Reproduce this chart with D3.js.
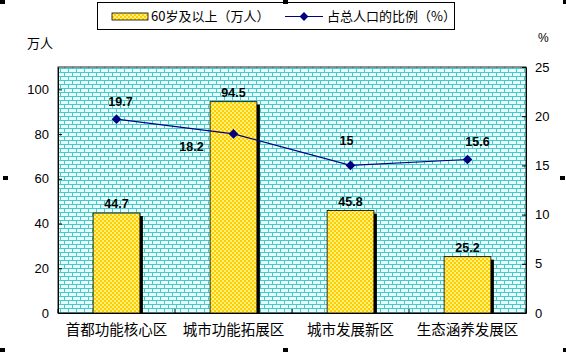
<!DOCTYPE html>
<html lang="zh">
<head>
<meta charset="UTF-8">
<title>60岁及以上人口</title>
<script src="https://cdn.jsdelivr.net/npm/d3@7"></script>
<style>
  body { margin: 0; background: #fff; }
  svg { display: block; }
  .num { font-family: "Liberation Sans", Arial, sans-serif; }
  .cjk { font-family: "Noto Sans CJK SC", sans-serif; }
</style>
</head>
<body>
<script>
const categories = ["首都功能核心区", "城市功能拓展区", "城市发展新区", "生态涵养发展区"];
const elderly = [44.7, 94.5, 45.8, 25.2];     // 60岁及以上（万人）
const share = [19.7, 18.2, 15, 15.6];          // 占总人口的比例（%）
const leftTicks = [0, 20, 40, 60, 80, 100];
const rightTicks = [0, 5, 10, 15, 20, 25];

const width = 566, height = 352;
const plot = {left: 58, right: 526, top: 67, bottom: 313};

const svg = d3.select("body").append("svg").attr("width", width).attr("height", height);

// fills: brick background, yellow checker for bars
const defs = svg.append("defs");
const brick = defs.append("pattern").attr("id", "brick").attr("patternUnits", "userSpaceOnUse")
    .attr("width", 8).attr("height", 8);
brick.append("rect").attr("width", 8).attr("height", 8).attr("fill", "#eaffff");
brick.append("path").attr("d", "M0,0.5H8M0,4.5H8M0.5,0V4M4.5,4.5V8")
    .attr("stroke", "#44cccc").attr("stroke-width", 1).attr("fill", "none");

const checker = defs.append("pattern").attr("id", "checker").attr("patternUnits", "userSpaceOnUse")
    .attr("width", 4).attr("height", 4);
checker.append("rect").attr("width", 4).attr("height", 4).attr("fill", "#fff27a");
checker.append("rect").attr("width", 2).attr("height", 2).attr("fill", "#ffcc00");
checker.append("rect").attr("x", 2).attr("y", 2).attr("width", 2).attr("height", 2).attr("fill", "#ffcc00");

const x = d3.scaleBand().domain(categories).range([plot.left, plot.right])
    .paddingInner(0.6).paddingOuter(0.3);
const yL = d3.scaleLinear().domain([0, 110]).range([plot.bottom, plot.top]);
const yR = d3.scaleLinear().domain([0, 25]).range([plot.bottom, plot.top]);
const cx = c => x(c) + x.bandwidth() / 2;

svg.append("rect")
    .attr("x", plot.left).attr("y", plot.top)
    .attr("width", plot.right - plot.left).attr("height", plot.bottom - plot.top)
    .attr("fill", "url(#brick)").attr("stroke", "#222").attr("stroke-width", 1);

// bars with a black drop shadow
const bars = svg.append("g");
bars.selectAll("rect.shadow").data(elderly).join("rect").attr("class", "shadow")
    .attr("x", (d, i) => x(categories[i]) + 3).attr("y", d => yL(d) + 3)
    .attr("width", x.bandwidth()).attr("height", d => plot.bottom - yL(d) - 3)
    .attr("fill", "#000");
bars.selectAll("rect.bar").data(elderly).join("rect").attr("class", "bar")
    .attr("x", (d, i) => x(categories[i])).attr("y", d => yL(d))
    .attr("width", x.bandwidth()).attr("height", d => plot.bottom - yL(d))
    .attr("fill", "url(#checker)").attr("stroke", "#000").attr("stroke-width", 0.8);

bars.selectAll("text").data(elderly).join("text").attr("class", "num")
    .attr("x", (d, i) => cx(categories[i])).attr("y", d => yL(d) - 5)
    .attr("text-anchor", "middle").attr("font-size", 12.5).attr("font-weight", "bold")
    .text(d => d);

// axes
const axL = svg.append("g").attr("transform", `translate(${plot.left},0)`)
    .call(d3.axisLeft(yL).tickValues(leftTicks).tickSizeInner(-4).tickSizeOuter(0).tickPadding(9));
const axR = svg.append("g").attr("transform", `translate(${plot.right},0)`)
    .call(d3.axisRight(yR).tickValues(rightTicks).tickSizeInner(-4).tickSizeOuter(0).tickPadding(9));
[axL, axR].forEach(g => {
  g.select(".domain").attr("stroke", "#000");
  g.selectAll(".tick line").attr("stroke", "#000");
  g.selectAll("text").attr("class", "num").attr("font-size", 13).attr("fill", "#000");
});

const axB = svg.append("g").attr("transform", `translate(0,${plot.bottom})`)
    .call(d3.axisBottom(x).tickSize(0).tickPadding(12));
axB.select(".domain").attr("stroke", "#000");
axB.selectAll("text").attr("class", "cjk").attr("font-size", 14.5).attr("fill", "#000");
axB.selectAll("line.sep").data(d3.range(categories.length + 1)).join("line").attr("class", "sep")
    .attr("x1", i => plot.left + i * x.step()).attr("x2", i => plot.left + i * x.step())
    .attr("y1", 0).attr("y2", -4).attr("stroke", "#000");

// line series on the right axis
const line = d3.line().x((d, i) => cx(categories[i])).y(d => yR(d));
svg.append("path").datum(share).attr("d", line)
    .attr("fill", "none").attr("stroke", "#000080").attr("stroke-width", 1.2);
svg.selectAll("path.pt").data(share).join("path").attr("class", "pt")
    .attr("d", d3.symbol(d3.symbolDiamond2, 60))
    .attr("transform", (d, i) => `translate(${cx(categories[i])},${yR(d)})`)
    .attr("fill", "#000080");

// label offsets as placed in the original chart
const lineLabelOffset = [[4, -13], [-42, 17], [-4, -20], [10, -13]];
svg.selectAll("text.pl").data(share).join("text").attr("class", "pl num")
    .attr("x", (d, i) => cx(categories[i]) + lineLabelOffset[i][0])
    .attr("y", (d, i) => yR(d) + lineLabelOffset[i][1])
    .attr("text-anchor", "middle").attr("font-size", 12.5).attr("font-weight", "bold")
    .text(d => d);

// axis titles
svg.append("text").attr("class", "cjk").attr("x", 27).attr("y", 48)
    .attr("font-size", 13).text("万人");
svg.append("text").attr("class", "num").attr("x", 538).attr("y", 42)
    .attr("font-size", 12).text("%");

// legend
const lg = svg.append("g");
lg.append("rect").attr("x", 97.5).attr("y", 2.5).attr("width", 357).attr("height", 27)
    .attr("fill", "#fff").attr("stroke", "#000");
lg.append("rect").attr("x", 112).attr("y", 13).attr("width", 36).attr("height", 7)
    .attr("fill", "url(#checker)").attr("stroke", "#000").attr("stroke-width", 0.8);
lg.append("text").attr("class", "cjk").attr("x", 151).attr("y", 21)
    .attr("font-size", 13).text("60岁及以上（万人）");
lg.append("line").attr("x1", 285).attr("x2", 323).attr("y1", 16.5).attr("y2", 16.5)
    .attr("stroke", "#000080").attr("stroke-width", 1.2);
lg.append("path").attr("d", d3.symbol(d3.symbolDiamond2, 50))
    .attr("transform", "translate(304,16.5)").attr("fill", "#000080");
lg.append("text").attr("class", "cjk").attr("x", 327).attr("y", 21)
    .attr("font-size", 13).text("占总人口的比例（%）");

// selection handles around the chart area
const handles = [[0, 0], [283, 0], [563, 0], [3, 176], [560, 176], [0, 348], [283, 348], [563, 348]];
svg.selectAll("rect.h").data(handles).join("rect").attr("class", "h")
    .attr("x", d => d[0]).attr("y", d => d[1]).attr("width", 5).attr("height", 4).attr("fill", "#000");
</script>
</body>
</html>
